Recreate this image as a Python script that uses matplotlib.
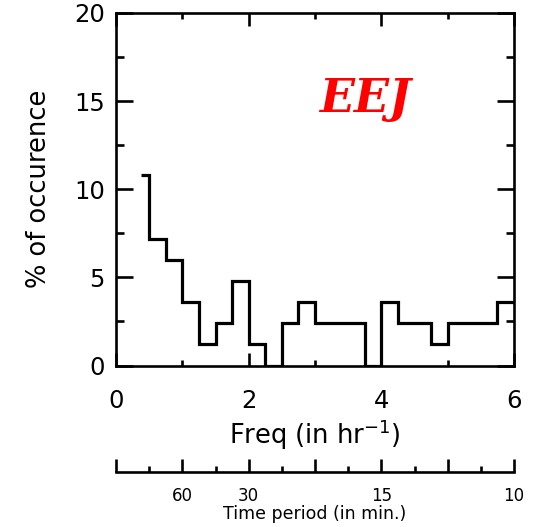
import numpy as np
import matplotlib
matplotlib.use("Agg")
import matplotlib.pyplot as plt
from matplotlib.ticker import MultipleLocator, FixedLocator

# Data: histogram of occurrence (%) vs frequency (hr^-1)
bin_edges = [0.375, 0.5, 0.75, 1.0, 1.25, 1.5, 1.75, 2.0, 2.25, 2.5, 2.75, 3.0,
             3.25, 3.5, 3.75, 4.0, 4.25, 4.5, 4.75, 5.0, 5.25, 5.5, 5.75, 6.0]
occurrence = [10.8, 7.2, 6.0, 3.6, 1.2, 2.4, 4.8, 1.2, 0.0, 2.4, 3.6,
              2.4, 2.4, 2.4, 0.0, 3.6, 2.4, 2.4, 1.2, 2.4, 2.4, 2.4, 3.6]
period_labels = [60, 30, 15, 10]   # minutes
x_ticks = [0, 2, 4, 6]
y_ticks = [0, 5, 10, 15, 20]

W, H = 534, 527
fig = plt.figure(figsize=(W / 100, H / 100), dpi=100)

def fx(px):
    return px / W

def fy(py):
    return 1 - py / H

left, right, top, bottom = 116, 514, 13, 365.5
ax = fig.add_axes([fx(left), fy(bottom), fx(right - left), fy(top) - fy(bottom)])
ax.stairs(occurrence, bin_edges, baseline=None, color='black', linewidth=2.3)
ax.set_xlim(0, 6)
ax.set_ylim(0, 20)
ax.set_xticks(x_ticks)
ax.set_yticks(y_ticks)
ax.xaxis.set_minor_locator(MultipleLocator(1))
ax.yaxis.set_minor_locator(MultipleLocator(2.5))
for s in ax.spines.values():
    s.set_linewidth(1.9)
ax.tick_params(axis='both', which='both', direction='in', top=True, right=True,
               width=1.9, labelsize=17.5, color='black')
ax.tick_params(axis='x', which='major', length=9.5, pad=17)
ax.tick_params(axis='x', which='minor', length=4.5)
ax.tick_params(axis='y', which='major', length=12, pad=8)
ax.tick_params(axis='y', which='minor', length=6)
ax.set_xlabel('Freq (in hr$^{-1}$)', fontsize=18.5, labelpad=3)
ax.set_ylabel('% of occurence', fontsize=18.5, labelpad=16)

ax.text(0.625, 0.755, 'EEJ', transform=ax.transAxes, color='red',
        fontsize=33, fontweight='bold', fontstyle='italic',
        family='DejaVu Serif', ha='center', va='center')

# Secondary axis: time period in minutes
base_y = 471.7
ax2 = fig.add_axes([fx(left), fy(base_y), fx(right - left), 0.001])
ax2.set_xlim(0, 6)
ax2.set_ylim(0, 1)
for name in ['top', 'left', 'right']:
    ax2.spines[name].set_visible(False)
ax2.spines['bottom'].set_linewidth(1.9)
ax2.set_yticks([])
ax2.xaxis.set_major_locator(FixedLocator(list(range(0, 7))))
ax2.xaxis.set_minor_locator(MultipleLocator(0.5))
label_pos = {60.0 / p: str(p) for p in period_labels}
ax2.set_xticklabels([label_pos.get(float(t), '') for t in range(0, 7)])
ax2.tick_params(axis='x', which='both', direction='in', width=1.9, labelsize=12)
ax2.tick_params(axis='x', which='major', length=9.5, pad=11)
ax2.tick_params(axis='x', which='minor', length=4.5)
ax2.set_xlabel('Time period (in min.)', fontsize=12.5, labelpad=0)

fig.savefig('out.png', dpi=100)
